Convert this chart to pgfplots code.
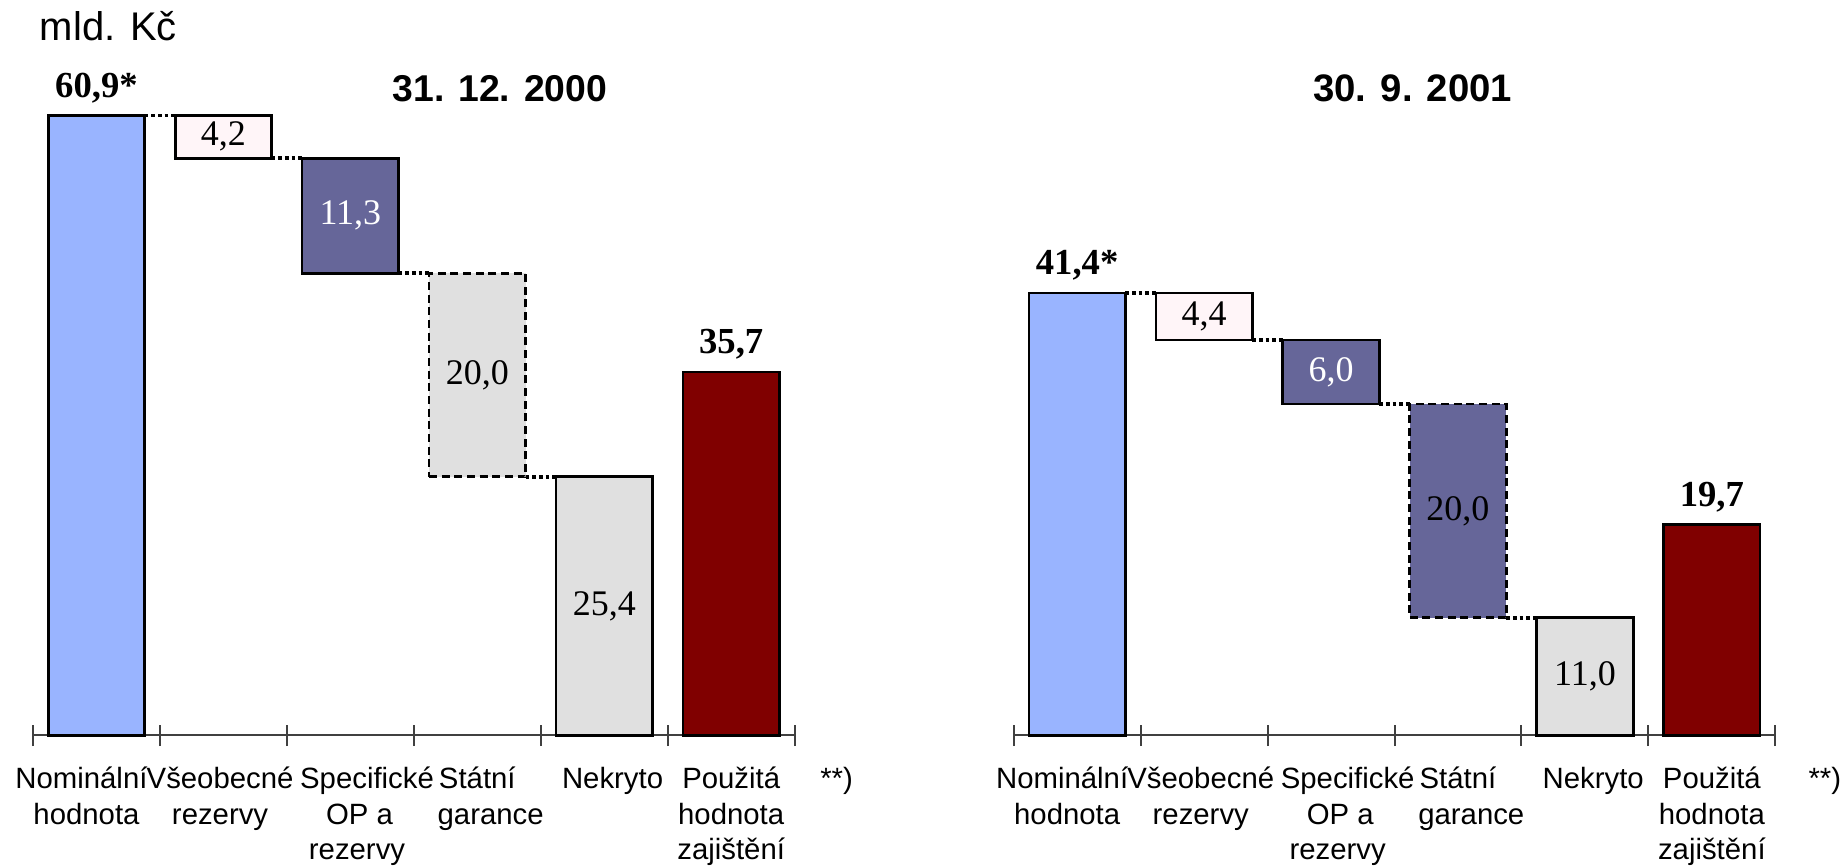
\documentclass[border=0pt]{standalone}
\usepackage{fontspec}
\setmainfont{Liberation Serif}
\setsansfont{Liberation Sans}
\usepackage{pgfplots}
\pgfplotsset{compat=1.18}

\definecolor{cBlue}{RGB}{153,180,255}
\definecolor{cPink}{RGB}{255,245,248}
\definecolor{cPurple}{RGB}{102,102,153}
\definecolor{cGrey}{RGB}{224,224,224}
\definecolor{cRed}{RGB}{128,0,0}

\pgfplotsset{
  wf/.style={
    scale only axis, width=228.5pt, height=199.4pt,
    anchor=south west, clip=false,
    xmin=-0.5, xmax=5.5, ymin=0,
    axis x line=bottom, axis y line=none,
    axis line style={-, black!75, line width=0.6pt},
    xtick={0,...,5},
    minor xtick={-0.5,0.5,...,5.5},
    major tick length=0pt, minor tick length=6.5pt,
    tick align=center,
    minor tick style={black!75, line width=0.6pt},
    % Excel wrapped the names a little off centre; the small shifts keep them apart
    xticklabels={
      {Nominální\hspace*{9pt}\\hodnota\hspace*{6pt}},
      {Všeobecné\hspace*{2pt}\\rezervy\hspace*{2pt}},
      {\hspace*{10pt}Specifické\\\hspace*{5.5pt}OP a\\\hspace*{4pt}rezervy},
      {Státní\\\hspace*{8pt}garance},
      {\hspace*{5pt}Nekryto},
      {Použitá\\hodnota\\zajištění}},
    xticklabel style={align=center, anchor=north, yshift=-6pt,
      font=\sffamily\fontsize{8.8}{10.6}\selectfont},
  },
  wfbar/.style={ybar, bar width=0.76, bar shift=0pt, draw=black, line width=0.8pt},
  wfbox/.style={draw=black, line width=0.8pt},
  wfdash/.style={dash pattern=on 2.4pt off 1.4pt},
  wflink/.style={black, dash pattern=on 1.1pt off 0.9pt, line width=1.1pt},
  wftop/.style={nodes near coords style={black, font=\bfseries\fontsize{11}{13}\selectfont}},
}
\tikzset{wfin/.style={font=\fontsize{10.8}{12}\selectfont}}

\begin{document}
\begin{tikzpicture}
\useasboundingbox (0,0) rectangle (553.5pt,259.8pt);

% 31. 12. 2000
\begin{axis}[wf, at={(9.9pt,39.2pt)}, ymax=65.3]
\addplot[wfbar, fill=cBlue, wftop, nodes near coords={60,9*}] coordinates {(0,60.9)};
\addplot[wfbox, fill=cPink] coordinates {(0.62,56.7)(1.38,56.7)(1.38,60.9)(0.62,60.9)} -- cycle;
\addplot[wfbox, fill=cPurple] coordinates {(1.62,45.4)(2.38,45.4)(2.38,56.7)(1.62,56.7)} -- cycle;
\addplot[wfbox, fill=cGrey, wfdash] coordinates {(2.62,25.4)(3.38,25.4)(3.38,45.4)(2.62,45.4)} -- cycle;
\addplot[wfbar, fill=cGrey] coordinates {(4,25.4)};
\addplot[wfbar, fill=cRed, wftop, nodes near coords={35,7}] coordinates {(5,35.7)};
\addplot[wflink] coordinates {(0.38,60.9)(0.62,60.9)};
\addplot[wflink] coordinates {(1.38,56.7)(1.62,56.7)};
\addplot[wflink] coordinates {(2.38,45.4)(2.62,45.4)};
\addplot[wflink] coordinates {(3.38,25.4)(3.62,25.4)};
\node[wfin] at (axis cs:1,58.8) {4,2};
\node[wfin, white] at (axis cs:2,51.05) {11,3};
\node[wfin] at (axis cs:3,35.4) {20,0};
\node[wfin] at (axis cs:4,12.7) {25,4};
\node[font=\sffamily\bfseries\fontsize{11.2}{13}\selectfont] at (rel axis cs:0.613,0.973) {31. 12. 2000};
\node[font=\sffamily\fontsize{12}{14}\selectfont] at (rel axis cs:0.099,1.067) {mld. Kč};
\node[font=\sffamily\fontsize{8.8}{10.6}\selectfont, anchor=north, yshift=-6pt] at (axis cs:5.83,0) {**)};
\end{axis}

% 30. 9. 2001
\begin{axis}[wf, at={(304.1pt,39.2pt)}, ymax=62.2]
\addplot[wfbar, fill=cBlue, wftop, nodes near coords={41,4*}] coordinates {(0,41.4)};
\addplot[wfbox, fill=cPink] coordinates {(0.62,37.0)(1.38,37.0)(1.38,41.4)(0.62,41.4)} -- cycle;
\addplot[wfbox, fill=cPurple] coordinates {(1.62,31.0)(2.38,31.0)(2.38,37.0)(1.62,37.0)} -- cycle;
\addplot[wfbox, fill=cPurple, wfdash] coordinates {(2.62,11.0)(3.38,11.0)(3.38,31.0)(2.62,31.0)} -- cycle;
\addplot[wfbar, fill=cGrey] coordinates {(4,11.0)};
\addplot[wfbar, fill=cRed, wftop, nodes near coords={19,7}] coordinates {(5,19.7)};
\addplot[wflink] coordinates {(0.38,41.4)(0.62,41.4)};
\addplot[wflink] coordinates {(1.38,37.0)(1.62,37.0)};
\addplot[wflink] coordinates {(2.38,31.0)(2.62,31.0)};
\addplot[wflink] coordinates {(3.38,11.0)(3.62,11.0)};
\node[wfin] at (axis cs:1,39.2) {4,4};
\node[wfin, white] at (axis cs:2,34.0) {6,0};
\node[wfin] at (axis cs:3,21.0) {20,0};
\node[wfin] at (axis cs:4,5.5) {11,0};
\node[font=\sffamily\bfseries\fontsize{11.5}{13}\selectfont] at (rel axis cs:0.524,0.973) {30. 9. 2001};
\node[font=\sffamily\fontsize{8.8}{10.6}\selectfont, anchor=north, yshift=-6pt] at (axis cs:5.89,0) {**)};
\end{axis}
\end{tikzpicture}
\end{document}
